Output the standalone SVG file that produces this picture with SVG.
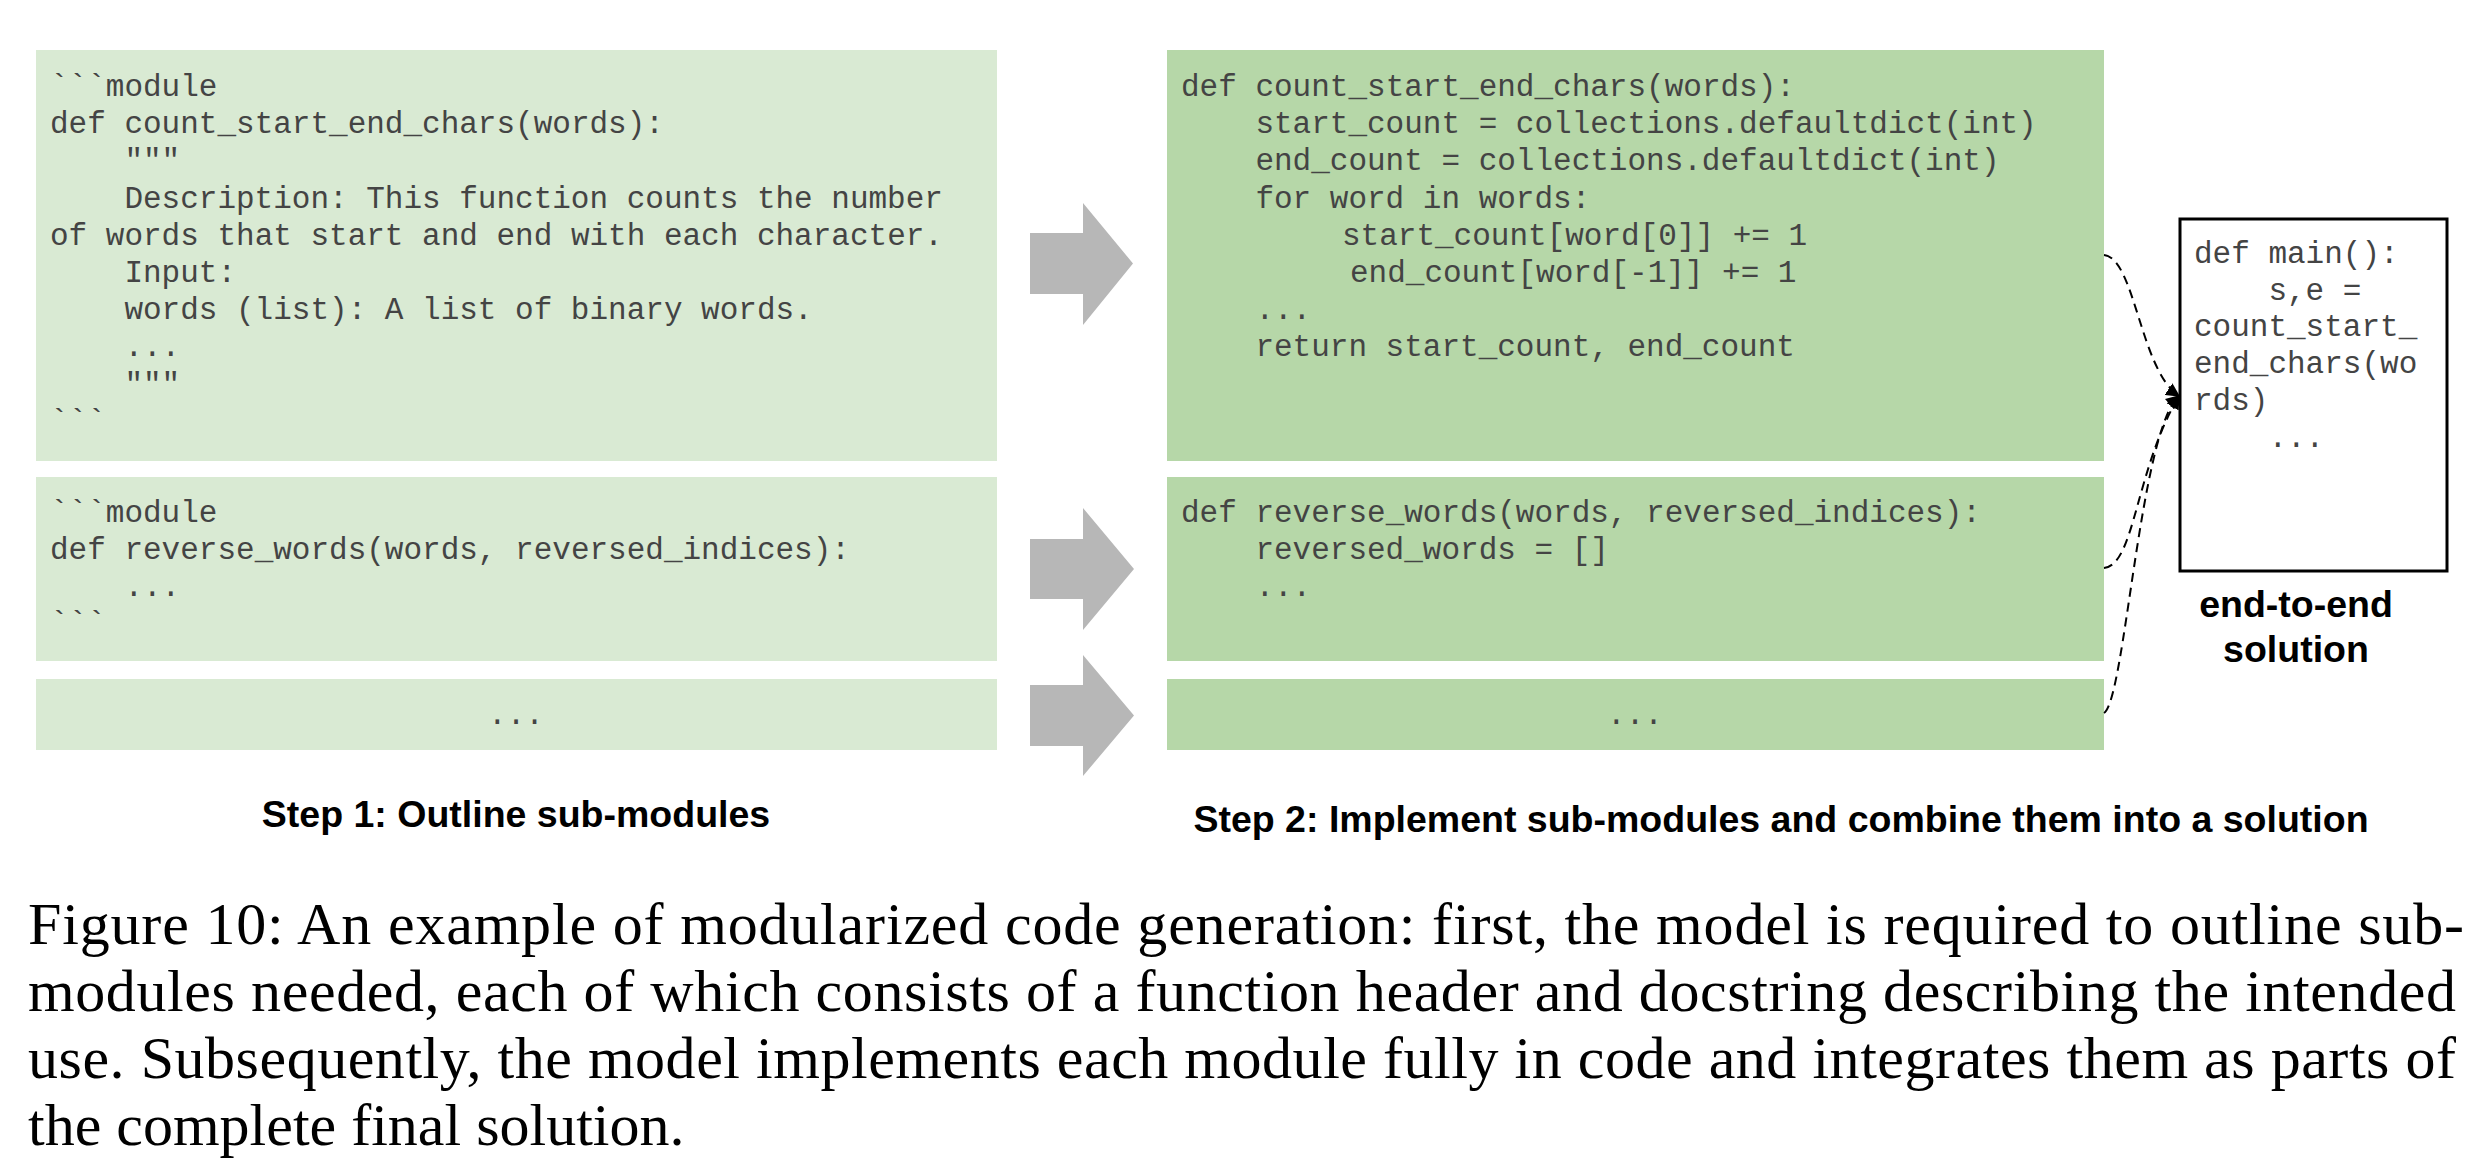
<svg xmlns="http://www.w3.org/2000/svg" width="2480" height="1166" viewBox="0 0 2480 1166">
<defs>
<style>
.bg{fill:#ffffff}
.outline{fill:#d9ead3}
.impl{fill:#b6d7a8}
.arrow{fill:#b7b7b7}
.code{font-family:"Liberation Mono","Courier New",monospace;font-size:31px;fill:#444444}
.label{font-family:"Liberation Sans",Arial,sans-serif;font-size:37.5px;font-weight:bold;fill:#000;text-anchor:middle}
.cap{font-family:"Liberation Serif","Times New Roman",serif;font-size:60px;fill:#000}
.conn{fill:none;stroke:#000;stroke-width:2;stroke-dasharray:9 6}
</style>
<marker id="ah" viewBox="0 0 10 10" refX="9" refY="5" markerWidth="7" markerHeight="7" markerUnits="strokeWidth" orient="auto">
<path d="M0,0 L10,5 L0,10 z" fill="#000"/>
</marker>
</defs>
<rect class="bg" x="0" y="0" width="2480" height="1166"/>

<g id="outline-1">
<rect class="outline" x="36" y="50" width="961" height="411"/>
<text class="code" x="50" y="96">```module</text>
<text class="code" x="50" y="133.2">def count_start_end_chars(words):</text>
<text class="code" x="124.4" y="170.4">"""</text>
<text class="code" x="124.4" y="207.6">Description: This function counts the number</text>
<text class="code" x="50" y="244.8">of words that start and end with each character.</text>
<text class="code" x="124.4" y="282">Input:</text>
<text class="code" x="124.4" y="319.2">words (list): A list of binary words.</text>
<text class="code" x="124.4" y="356.4">...</text>
<text class="code" x="124.4" y="393.6">"""</text>
<text class="code" x="50" y="430.8">```</text>
</g>

<g id="outline-2">
<rect class="outline" x="36" y="477" width="961" height="184"/>
<text class="code" x="50" y="521.7">```module</text>
<text class="code" x="50" y="558.9">def reverse_words(words, reversed_indices):</text>
<text class="code" x="124.4" y="596.1">...</text>
<text class="code" x="50" y="633.3">```</text>
</g>

<g id="outline-3">
<rect class="outline" x="36" y="679" width="961" height="71"/>
<text class="code" x="516" y="724" text-anchor="middle">...</text>
</g>

<g id="arrow-1">
<polygon class="arrow" points="1030,233 1083,233 1083,203 1133,263.5 1083,325 1083,294 1030,294"/>
</g>
<g id="arrow-2">
<polygon class="arrow" points="1030,539 1083,539 1083,508 1134,569 1083,630 1083,599 1030,599"/>
</g>
<g id="arrow-3">
<polygon class="arrow" points="1030,685 1083,685 1083,655 1134,715.5 1083,776 1083,746 1030,746"/>
</g>

<g id="impl-1">
<rect class="impl" x="1167" y="50" width="937" height="411"/>
<text class="code" x="1181" y="96">def count_start_end_chars(words):</text>
<text class="code" x="1255.4" y="133.2">start_count = collections.defaultdict(int)</text>
<text class="code" x="1255.4" y="170.4">end_count = collections.defaultdict(int)</text>
<text class="code" x="1255.4" y="207.6">for word in words:</text>
<text class="code" x="1342" y="244.8">start_count[word[0]] += 1</text>
<text class="code" x="1350" y="282">end_count[word[-1]] += 1</text>
<text class="code" x="1255.4" y="319.2">...</text>
<text class="code" x="1255.4" y="356.4">return start_count, end_count</text>
</g>

<g id="impl-2">
<rect class="impl" x="1167" y="477" width="937" height="184"/>
<text class="code" x="1181" y="521.7">def reverse_words(words, reversed_indices):</text>
<text class="code" x="1255.4" y="558.9">reversed_words = []</text>
<text class="code" x="1255.4" y="596.1">...</text>
</g>

<g id="impl-3">
<rect class="impl" x="1167" y="679" width="937" height="71"/>
<text class="code" x="1635" y="724" text-anchor="middle">...</text>
</g>

<g id="solution">
<rect x="2180" y="219" width="267" height="352" fill="#fff" stroke="#000" stroke-width="3"/>
<text class="code" x="2194" y="262.7">def main():</text>
<text class="code" x="2268.4" y="299.5">s,e =</text>
<text class="code" x="2194" y="336.3">count_start_</text>
<text class="code" x="2194" y="373.1">end_chars(wo</text>
<text class="code" x="2194" y="409.9">rds)</text>
<text class="code" x="2268.4" y="446.7">...</text>
<text class="label" x="2296" y="617">end-to-end</text>
<text class="label" x="2296" y="662">solution</text>
</g>

<g id="connectors">
<path class="conn" d="M2104,255 C2135,258 2140,370 2179,396" marker-end="url(#ah)"/>
<path class="conn" d="M2104,568 C2135,565 2135,470 2179,396" marker-end="url(#ah)"/>
<path class="conn" d="M2104,713 C2125,700 2140,430 2179,396" marker-end="url(#ah)"/>
</g>

<g id="step-labels">
<text class="label" x="516" y="827">Step 1: Outline sub-modules</text>
<text class="label" x="1781" y="832">Step 2: Implement sub-modules and combine them into a solution</text>
</g>

<g id="caption">
<text class="cap" x="28" y="944" textLength="2436" lengthAdjust="spacing">Figure 10: An example of modularized code generation: first, the model is required to outline sub-</text>
<text class="cap" x="28" y="1011" textLength="2428" lengthAdjust="spacing">modules needed, each of which consists of a function header and docstring describing the intended</text>
<text class="cap" x="28" y="1078" textLength="2428" lengthAdjust="spacing">use. Subsequently, the model implements each module fully in code and integrates them as parts of</text>
<text class="cap" x="28" y="1145">the complete final solution.</text>
</g>
</svg>
